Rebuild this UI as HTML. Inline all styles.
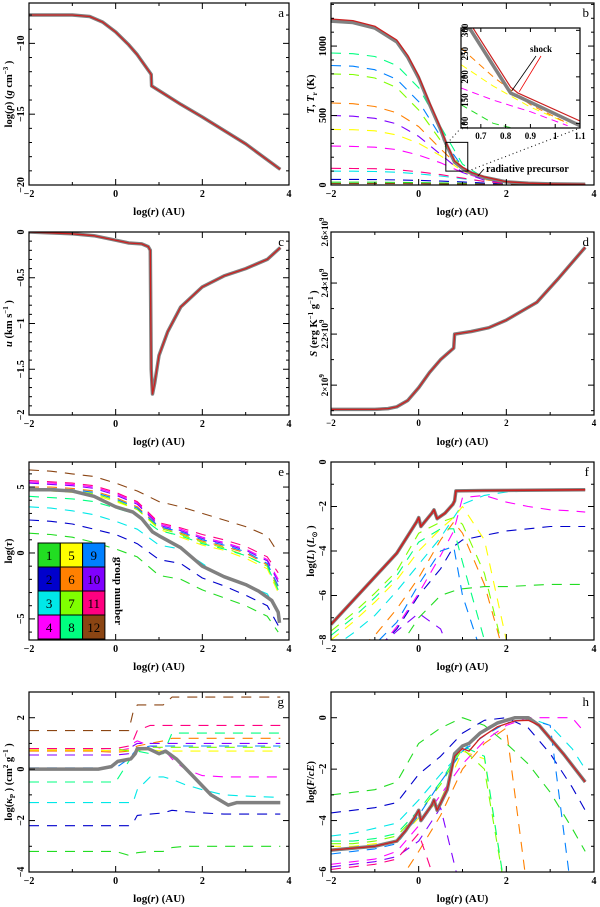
<!DOCTYPE html>
<html><head><meta charset="utf-8"><style>
html,body{margin:0;padding:0;background:#fff}
svg{display:block;font-family:"Liberation Serif",serif;font-weight:bold}
</style></head><body>
<svg id="fig" width="600" height="907" viewBox="0 0 600 907" xmlns="http://www.w3.org/2000/svg"></svg>
<script>
// ---------- DATA ----------
const GROUP_COLORS=['#22dd22','#0000cc','#00e8e8','#ff00ff','#ffff00','#ff8000','#80ff00','#00ff80','#0080ff','#8000ff','#ff0080','#8b4513'];
// panel a
const A_x=[-2,-1,-0.6,-0.3,0,0.3,0.5,0.8,0.82,0.83,1.5,2,3,3.8];
const A_y=[-8,-8,-8.1,-8.5,-9.2,-10.1,-10.8,-12.1,-12.2,-13.0,-14.3,-15.2,-17.1,-18.9];
// panel b
const B_x=[-2,-1.5,-1,-0.5,-0.25,0,0.25,0.5,0.62,0.82,1.0,1.2,1.5,2,2.5,3,3.8];
const B_gray=[1180,1170,1130,1030,920,770,580,400,300,165,120,85,55,22,12,8,5];
const B_red=[1195,1183,1143,1043,933,783,592,410,310,172,128,90,58,24,13,8,5];
const B_gx=[-2,-1.5,-1,-0.5,0,0.5,1,1.5,2,3,3.8];
const B_g1=[20,20,20,19,17,15,12,9,6,4,3];
const B_g2=[40,40,39,37,33,28,22,14,8,5,3];
const B_g3=[100,99,97,92,80,65,45,25,12,6,4];
const B_g4=[280,278,272,255,215,160,90,40,15,7,5];
const B_g5=[400,398,390,360,300,210,100,40,15,7,5];
const B_g6=[590,585,565,520,420,260,110,40,16,7,5];
const B_g7=[800,795,770,700,540,320,120,45,18,8,5];
const B_g8=[950,945,925,860,700,420,150,50,20,8,5];
const B_g9=[860,855,830,760,600,350,130,45,18,8,5];
const B_g10=[500,495,480,440,350,220,90,35,14,6,4];
const B_g11=[120,119,117,110,95,75,50,25,12,6,4];
const B_g12=[10,10,10,10,9,8,7,6,5,3,2];
// inset
const I_x=[0.62,0.66,0.82,0.85,1.1];
const I_gray=[320,300,165,158,95];
const I_red=[330,312,178,165,105];
const I_dx=[0.62,0.75,0.9,1.05];
const I_orange=[262,200,140,100];
const I_yellow=[226,180,135,100];
const I_magenta=[176,150,125,95];
const I_green=[140,100,80,70];
// panel c
const C_x=[-2,-1,-0.5,0,0.3,0.6,0.75,0.8,0.82,0.85,0.9,1.0,1.2,1.5,2,2.5,3,3.5,3.8];
const C_y=[0,-0.02,-0.04,-0.09,-0.12,-0.13,-0.16,-0.2,-1.5,-1.77,-1.65,-1.35,-1.09,-0.82,-0.6,-0.48,-0.4,-0.3,-0.17];
// panel d
const D_x=[-2,-1,-0.7,-0.5,-0.25,0,0.25,0.5,0.8,0.82,1.2,1.6,2,2.7,3.2,3.8];
const D_y=[1.905,1.905,1.908,1.915,1.94,1.99,2.05,2.1,2.145,2.2,2.21,2.225,2.255,2.325,2.42,2.54];
// panel e
const E_x=[-2,-1.5,-1,-0.5,0,0.4,0.6,0.85,1,1.5,2,2.5,3,3.3,3.6,3.75,3.78];
const E_y=[4.8,4.8,4.7,4.3,3.5,3.1,2.6,1.6,1.3,0.4,-1,-1.8,-2.4,-2.9,-3.6,-4.5,-5.3];
const E_gx=[-2,-1.5,-1,-0.5,0,0.5,1,1.5,2,2.5,3,3.5,3.75];
const E_g1=[1.5,1.4,1.2,0.8,0.3,-0.3,-1.7,-2,-2.8,-3.4,-4.0,-4.8,-6];
const E_g2=[2.5,2.4,2.2,1.8,1.4,0.7,-0.5,-0.8,-1.9,-2.5,-3.2,-4.0,-5.5];
const E_g3=[3.5,3.4,3.2,2.9,2.4,1.8,0.6,0.3,-0.8,-1.9,-2.4,-3.1,-4.5];
const E_g4=[5.4,5.3,5.2,5.0,4.5,3.8,2.2,1.8,1.2,0.8,0.3,-0.5,-2];
const E_g5=[4.7,4.7,4.6,4.4,3.9,3.3,1.8,1.2,0.6,0.2,-0.4,-1.2,-3];
const E_g6=[5.0,5.0,4.9,4.7,4.2,3.5,2.0,1.5,0.9,0.5,0,-0.9,-2.6];
const E_g7=[4.8,4.8,4.7,4.5,4.0,3.3,1.9,1.4,0.8,0.4,-0.2,-1,-2.8];
const E_g8=[4.3,4.2,4.1,3.9,3.4,2.9,1.7,1.3,0.7,0.3,-0.2,-1.0,-2.8];
const E_g9=[4.9,4.9,4.8,4.6,4.1,3.4,2.0,1.6,1.0,0.6,0.1,-0.8,-2.5];
const E_g10=[5.3,5.2,5.1,4.9,4.4,3.7,2.1,1.7,1.1,0.7,0.2,-0.6,-2.2];
const E_g11=[5.5,5.4,5.3,5.1,4.6,3.9,2.3,1.9,1.4,1.0,0.5,-0.3,-1.5];
const E_g12=[6.3,6.2,6.0,5.8,5.3,4.7,3.9,3.5,3.0,2.5,2.0,1.3,0.0];
// panel f
const F_x=[-2,-0.5,-0.05,0,0.05,0.3,0.35,0.42,0.6,0.78,0.82,0.85,1.5,3.8];
const F_y=[-7.3,-4.1,-2.7,-2.5,-2.9,-2.3,-2.15,-2.55,-2.3,-1.9,-1.75,-1.3,-1.28,-1.25];
const F_gx=[-2,-1.5,-1,-0.5,0,0.5,0.8,1,1.5,2,2.5,3,3.5,3.8];
const F_g1=[-9,-9,-9,-8.5,-7,-6,-5.8,-5.7,-5.6,-5.6,-5.55,-5.5,-5.5,-5.5];
const F_g2=[-9,-9,-8.5,-7.5,-6,-4.8,-3.8,-3.5,-3.3,-3.1,-3.0,-2.9,-2.9,-2.9];
const F_g3=[-8.4,-7.7,-6.9,-5.8,-4.6,-3.4,-2.5,-1.9,-1.5,-1.35,-1.3,-1.3,-1.3,-1.3];
const F_g4=[-9,-9,-8.6,-7.4,-5.9,-4.2,-3.1,-1.6,-1.5,-1.8,-2.0,-2.15,-2.2,-2.25];
const F_g5=[-8,-7.2,-6.3,-5.3,-4,-3,-2.5,-2.0,-3.5,-8,-9,-9,-9,-9];
const F_g6=[-9,-8.6,-7.8,-6.6,-5.2,-3.5,-2.7,-3.2,-5.5,-9,-9,-9,-9,-9];
const F_g7=[-7.6,-6.8,-5.9,-4.9,-3.2,-2.7,-2.5,-2.8,-5,-9,-9,-9,-9,-9];
const F_g8=[-7.8,-7.0,-6.1,-5.1,-3.6,-3.0,-3.0,-4.5,-8,-9,-9,-9,-9,-9];
const F_g9=[-9,-8.8,-8.2,-7.2,-5.5,-4,-3.8,-6,-9,-9,-9,-9,-9,-9];
const F_g10=[-9,-9,-8.5,-7.6,-6.8,-7.5,-9,-9,-9,-9,-9,-9,-9,-9];
const F_g11=[-9,-9,-8.8,-8.2,-8.5,-9,-9,-9,-9,-9,-9,-9,-9,-9];
const F_g12=[-9,-9,-9,-9,-9,-9,-9,-9,-9,-9,-9,-9,-9,-9];
// panel g
const G_x=[-2,-1,-0.4,-0.1,0.05,0.35,0.45,0.5,0.75,1,1.15,1.4,1.8,2.2,2.6,2.8,3.8];
const G_y=[0,0,0,0.1,0.3,0.4,0.6,0.8,0.8,0.6,0.7,0.4,-0.3,-1.0,-1.4,-1.3,-1.3];
const G_gx=[-2,-1,-0.5,0,0.3,0.4,0.5,0.8,1.1,1.3,1.6,2,2.5,3,3.8];
const G_g1=[-3.2,-3.2,-3.2,-3.2,-3.35,-3.3,-3.25,-3.2,-3.2,-3.05,-3.0,-3.0,-3.0,-3.0,-3.0];
const G_g2=[-2.2,-2.2,-2.2,-2.2,-2.2,-2.1,-1.8,-1.75,-1.7,-1.6,-1.65,-1.7,-1.75,-1.75,-1.75];
const G_g3=[-1.3,-1.3,-1.3,-1.3,-1.3,-1.3,-0.8,-0.3,-0.3,-0.4,-0.6,-0.8,-1.0,-1.05,-1.1];
const G_g4=[0.75,0.75,0.75,0.7,0.8,1.0,1.1,0.9,0.8,0.4,0,-0.25,-0.3,-0.3,-0.3];
const G_g5=[0.75,0.75,0.75,0.7,0.75,0.8,0.75,0.75,0.7,0.7,0.7,0.7,0.7,0.7,0.7];
const G_g6=[0.7,0.7,0.7,0.65,0.7,0.8,0.9,1.0,1.1,1.2,1.2,1.2,1.2,1.2,1.2];
const G_g7=[0.8,0.8,0.8,0.8,0.7,0.6,0.7,0.85,0.85,0.85,0.85,0.85,0.85,0.85,0.85];
const G_g8=[-0.5,-0.5,-0.5,-0.5,0.3,0.5,0.7,0.6,0.6,1.4,1.4,1.4,1.4,1.4,1.4];
const G_g9=[0.05,0.05,0.05,0.05,0.4,0.6,0.8,0.9,0.9,0.9,0.9,0.9,0.9,0.9,0.9];
const G_g10=[0.55,0.55,0.55,0.55,0.6,0.9,1.0,1.0,1.0,1.0,1.0,1.0,1.0,1.0,1.0];
const G_g11=[0.8,0.8,0.8,0.8,0.9,1.1,1.5,1.7,1.7,1.7,1.7,1.7,1.7,1.7,1.7];
const G_g12=[1.5,1.5,1.5,1.5,1.5,2.2,2.5,2.5,2.5,2.8,2.8,2.8,2.8,2.8,2.8];
// panel h
const H_x=[-2,-1,-0.5,-0.3,-0.1,0,0.05,0.3,0.35,0.42,0.65,0.82,1.0,1.15,1.4,1.8,2.2,2.5,2.75,3.3,3.8];
const H_red=[-5.15,-5.0,-4.8,-4.4,-3.9,-3.6,-4.0,-3.4,-3.2,-3.6,-2.8,-1.5,-1.2,-1.3,-0.8,-0.35,-0.12,-0.1,-0.3,-1.4,-2.5];
const H_gray=[-5.15,-5.0,-4.8,-4.4,-3.9,-3.6,-4.0,-3.4,-3.2,-3.6,-2.8,-1.4,-1.1,-1.0,-0.6,-0.2,0,0,-0.3,-1.4,-2.5];
const H_gx=[-2,-1.5,-1,-0.5,0,0.5,1,1.5,2,2.5,3,3.5,3.8];
const H_g1=[-3,-2.9,-2.8,-2.5,-1.0,-0.4,0,-0.3,-1.0,-1.8,-2.9,-4.3,-5.2];
const H_g2=[-3.7,-3.6,-3.5,-3.3,-2.2,-1.5,-0.6,-0.1,0,-0.4,-1.4,-2.7,-3.6];
const H_g3=[-4.6,-4.5,-4.3,-4.1,-3.2,-2.2,-1.3,-0.5,-0.1,0,-0.3,-1.2,-2];
const H_g4=[-5.7,-5.6,-5.5,-5.2,-4.2,-3,-1.8,-0.9,-0.3,0,0,0,-0.6];
const H_g5=[-5.0,-5.0,-4.9,-4.8,-3.9,-3.2,-1.3,-1.6,-7,-7,-7,-7,-7];
const H_g6=[-7,-7,-7,-6.5,-5.2,-3.8,-2,-1,-0.4,-7,-7,-7,-7];
const H_g7=[-4.9,-4.9,-4.8,-4.6,-3.7,-2.6,-1.2,-2,-7,-7,-7,-7,-7];
const H_g8=[-4.8,-4.8,-4.7,-4.5,-3.6,-2.5,-1.1,-1.5,-7,-7,-7,-7,-7];
const H_g9=[-5.3,-5.2,-5.1,-4.9,-3.8,-2.5,-1.3,-0.7,-0.2,-0.05,-0.3,-7,-7];
const H_g10=[-5.8,-5.7,-5.6,-5.4,-4.8,-3.5,-7,-7,-7,-7,-7,-7,-7];
const H_g11=[-5.9,-5.8,-5.7,-5.5,-4.5,-7,-7,-7,-7,-7,-7,-7,-7];
const H_g12=[-7,-7,-7,-7,-7,-7,-7,-7,-7,-7,-7,-7,-7];

// ---------- DRAWING ----------
const NS='http://www.w3.org/2000/svg';
const svg=document.getElementById('fig');
function mk(tag,attrs,parent){const e=document.createElementNS(NS,tag);for(const k in attrs)e.setAttribute(k,attrs[k]);(parent||svg).appendChild(e);return e;}
let clipN=0;
function panel(key,L,T,W,H,x0,x1,y0,y1){
  const g=mk('g',{});
  
  
  const sx=x=>L+(x-x0)/(x1-x0)*W, sy=y=>T+(y1-y)/(y1-y0)*H;
  const cid='clip'+(clipN++);
  const cp=mk('clipPath',{id:cid},g); mk('rect',{x:L,y:T,width:W,height:H},cp);
  const plot=mk('g',{'clip-path':'url(#'+cid+')'},g);
  return {g,plot,sx,sy,L,T,W,H,key};
}
function frame(P,xt,xminor,yt,yminor,ytl,opts){
  opts=opts||{};
  const fs=opts.fs||10, tl=opts.tl||6;
  const r=mk('rect',{x:P.L,y:P.T,width:P.W,height:P.H,fill:'none',stroke:'#000','stroke-width':1.2},P.g);
  
  
  const B=P.T+P.H;
  xt.forEach((v,i)=>{const x=P.sx(v);
    mk('line',{x1:x,x2:x,y1:B,y2:B-tl,stroke:'#000','stroke-width':1},P.g);
    mk('line',{x1:x,x2:x,y1:P.T,y2:P.T+tl,stroke:'#000','stroke-width':1},P.g);
    const t=mk('text',{x:x,y:B+fs+2,'font-size':fs,'text-anchor':'middle'},P.g);
    t.textContent=(opts.xlabels?opts.xlabels[i]:(v<0?'\u2212'+(-v):String(v)));
    
    
  });
  xminor.forEach(v=>{const x=P.sx(v);
    mk('line',{x1:x,x2:x,y1:B,y2:B-tl/2,stroke:'#000','stroke-width':1},P.g);
    mk('line',{x1:x,x2:x,y1:P.T,y2:P.T+tl/2,stroke:'#000','stroke-width':1},P.g);});
  yt.forEach((v,i)=>{const y=P.sy(v);
    mk('line',{x1:P.L,x2:P.L+tl,y1:y,y2:y,stroke:'#000','stroke-width':1},P.g);
    mk('line',{x1:P.L+P.W,x2:P.L+P.W-tl,y1:y,y2:y,stroke:'#000','stroke-width':1},P.g);
    const lx=P.L-(opts.ylx||4);
    const t=mk('text',{x:0,y:0,'font-size':fs,'text-anchor':'middle',transform:`translate(${lx},${y}) rotate(-90)`},P.g);
    t.innerHTML=ytl[i];
    
    
  });
  yminor.forEach(v=>{const y=P.sy(v);
    mk('line',{x1:P.L,x2:P.L+tl/2,y1:y,y2:y,stroke:'#000','stroke-width':1},P.g);
    mk('line',{x1:P.L+P.W,x2:P.L+P.W-tl/2,y1:y,y2:y,stroke:'#000','stroke-width':1},P.g);});
}
function titles(P,ytitle,letter,ytx){
  const t=mk('text',{x:P.L+P.W/2,y:P.T+P.H+30,'font-size':11,'text-anchor':'middle'},P.g);
  t.innerHTML='log(<tspan font-style="italic">r</tspan>)  (AU)';
  
  
  const yt=mk('text',{x:0,y:0,'font-size':10.5,'text-anchor':'middle',transform:`translate(${P.L-ytx},${P.T+P.H/2}) rotate(-90)`},P.g);
  yt.innerHTML=ytitle;
  
  
  const l=mk('text',{x:P.L+P.W-5,y:P.T+14,'font-size':13,'text-anchor':'end','font-weight':'normal'},P.g);
  l.textContent=letter;
  
  
}
function line(P,xs,ys,color,w,dash,name){
  let d='';xs.forEach((x,i)=>{d+=(i?'L':'M')+P.sx(x).toFixed(1)+','+P.sy(ys[i]).toFixed(1);});
  const a={d:d,fill:'none',stroke:color,'stroke-width':w,'stroke-linejoin':'round'};
  if(dash)a['stroke-dasharray']=dash;
  const p=mk('path',a,P.plot);
  
  
  return p;
}
function groups(P,gx,arrs,w){
  arrs.forEach((ys,i)=>{line(P,gx,ys,GROUP_COLORS[i],w||1.1,'10,8','group-'+(i+1)+'-line');});
}
function rng(a,b,s,skip){const r=[];for(let v=a;v<=b+1e-9;v+=s){const vv=Math.round(v*1000)/1000;if(!skip||skip.indexOf(vv)<0)r.push(vv);}return r;}
const GRAY='#808080', RED='#cc2020';
const XT=[-2,0,2,4], XM=[-1,1,3];
const LC=[29,331], WC=[260,263];
const RT=[3,232,462,692], RH=[182,183,178,180];
const sup=s=>`<tspan font-size="7" dy="-4">${s}</tspan><tspan dy="4"> </tspan>`;
const sub=s=>`<tspan font-size="7" dy="3">${s}</tspan><tspan dy="-3"> </tspan>`;

// a
let P=panel('a',LC[0],RT[0],WC[0],RH[0],-2,4,-20,-7.15);
line(P,A_x,A_y,GRAY,3.5,null,'density-gray-line');
line(P,A_x,A_y,RED,1.3,null,'density-red-line');
frame(P,XT,XM,[-20,-15,-10],rng(-20,-8,1,[-20,-15,-10]),['\u221220','\u221215','\u221210'],{ylx:5});
titles(P,'log(<tspan font-style="italic">ρ</tspan>)  (<tspan font-style="italic">g</tspan> cm'+sup('\u22123')+')','a',17);

// b
P=panel('b',LC[1],RT[0],WC[1],RH[0],-2,4,0,1310);
groups(P,B_gx,[B_g1,B_g2,B_g3,B_g4,B_g5,B_g6,B_g7,B_g8,B_g9,B_g10,B_g11,B_g12]);
line(P,B_x,B_gray,GRAY,3.5,null,'temperature-gray-line');
line(P,B_x,B_red,RED,1.3,null,'temperature-red-line');
frame(P,XT,XM,[0,500,1000],rng(100,1300,100,[500,1000]),['0','500','1000'],{ylx:5});
titles(P,'<tspan font-style="italic">T</tspan>, <tspan font-style="italic">T</tspan>'+sub('r')+' (K)','b',17);
const bx1=P.sx(0.62),bx2=P.sx(1.12),by1=P.sy(307),by2=P.sy(100);
let e=mk('rect',{x:bx1,y:by1,width:bx2-bx1,height:by2-by1,fill:'none',stroke:'#000','stroke-width':1},P.g);


e=mk('line',{x1:bx1+4,y1:by1-2,x2:461,y2:128,stroke:'#000','stroke-width':1,'stroke-dasharray':'1,3'},P.g);


e=mk('line',{x1:bx2,y1:by2,x2:580,y2:128,stroke:'#000','stroke-width':1,'stroke-dasharray':'1,3'},P.g);


e=mk('text',{x:486,y:172,'font-size':10},P.g);
e.textContent='radiative precursor';


e=mk('line',{x1:484,y1:169,x2:P.sx(1.35),y2:P.sy(65),stroke:'#000','stroke-width':0.8},P.g);


// inset
const I=panel('b-inset',461,28,119,100,0.62,1.1,90,305);
const ir=mk('rect',{x:461,y:28,width:119,height:100,fill:'#fff'},I.plot);


line(I,I_dx,I_green,GROUP_COLORS[0],1,'7,5','inset-group-1');
line(I,I_dx,I_magenta,GROUP_COLORS[3],1,'7,5','inset-group-4');
line(I,I_dx,I_yellow,GROUP_COLORS[4],1,'7,5','inset-group-5');
line(I,I_dx,I_orange,GROUP_COLORS[5],1,'7,5','inset-group-6');
line(I,I_x,I_gray,GRAY,3.5,null,'inset-gray-line');
line(I,I_x,I_red,RED,1.2,null,'inset-red-line');
frame(I,[0.7,0.8,0.9,1,1.1],[],[100,150,200,250,300],[],['100','150','200','250','300'],{fs:9,tl:4,ylx:-7,xlabels:['0.7','0.8','0.9','1','1.1']});
e=mk('text',{x:530,y:52,'font-size':9},I.g);
e.textContent='shock';


e=mk('line',{x1:536,y1:56,x2:I.sx(0.825),y2:I.sy(170),stroke:'#000','stroke-width':0.8},I.g);


e=mk('line',{x1:541,y1:56,x2:I.sx(0.855),y2:I.sy(168),stroke:'#e00','stroke-width':0.8},I.g);



// c
P=panel('c',LC[0],RT[1],WC[0],RH[1],-2,4,-2,0);
line(P,C_x,C_y,GRAY,3.5,null,'velocity-gray-line');
line(P,C_x,C_y,RED,1.3,null,'velocity-red-line');
frame(P,XT,XM,[-2,-1.5,-1,-0.5,0],rng(-1.9,-0.1,0.1,[-1.5,-1,-0.5]),['\u22122','\u22121.5','\u22121','\u22120.5','0'],{ylx:5});
titles(P,'<tspan font-style="italic">u</tspan> (km s'+sup('\u22121')+')','c',17);

// d
P=panel('d',LC[1],RT[1],WC[1],RH[1],-2,4,1.883,2.6);
line(P,D_x,D_y,GRAY,3.5,null,'entropy-gray-line');
line(P,D_x,D_y,RED,1.3,null,'entropy-red-line');
const X9=sup('9');
frame(P,XT,XM,[2.0,2.2,2.4,2.6],[1.9,2.1,2.3,2.5],['2×10'+X9,'2.2×10'+X9,'2.4×10'+X9,'2.6×10'+X9],{ylx:3,fs:9});
titles(P,'<tspan font-style="italic">S</tspan> (erg K'+sup('\u22121')+' g'+sup('\u22121')+')','d',14);

// e
P=panel('e',LC[0],RT[2],WC[0],RH[2],-2,4,-6.6,6.9);
groups(P,E_gx,[E_g1,E_g2,E_g3,E_g4,E_g5,E_g6,E_g7,E_g8,E_g9,E_g10,E_g11,E_g12]);
line(P,E_x,E_y,GRAY,3.5,null,'optical-depth-gray-line');
frame(P,XT,XM,[-5,0,5],rng(-6,6,1,[-5,0,5]),['\u22125','0','5'],{ylx:5});
titles(P,'log(<tspan font-style="italic">τ</tspan>)','e',17);
const LG=mk('g',{},P.g);


const lgX=38,lgY=543,cw=22.3,ch=24;
for(let c=0;c<3;c++)for(let r=0;r<4;r++){const n=c*4+r+1;
  const cell=mk('rect',{x:lgX+c*cw,y:lgY+r*ch,width:cw,height:ch,fill:GROUP_COLORS[n-1],stroke:'#000','stroke-width':1},LG);
  
  
  const t=mk('text',{x:lgX+c*cw+cw/2,y:lgY+r*ch+ch/2+5,'font-size':13,'font-weight':'normal','text-anchor':'middle'},LG);
  t.textContent=n;
  
  
}
e=mk('text',{x:0,y:0,'font-size':11,'text-anchor':'middle',transform:`translate(${lgX+3*cw+10},${lgY+2*ch}) rotate(90)`},LG);
e.textContent='group number';



// f
P=panel('f',LC[1],RT[2],WC[1],RH[2],-2,4,-8,0);
groups(P,F_gx,[F_g1,F_g2,F_g3,F_g4,F_g5,F_g6,F_g7,F_g8,F_g9,F_g10,F_g11,F_g12]);
line(P,F_x,F_y,GRAY,3.5,null,'luminosity-gray-line');
line(P,F_x,F_y,RED,1.6,null,'luminosity-red-line');
frame(P,XT,XM,[-8,-6,-4,-2,0],rng(-7,-1,1,[-6,-4,-2]),['\u22128','\u22126','\u22124','\u22122','0'],{ylx:5});
titles(P,'log(<tspan font-style="italic">L</tspan>)  (<tspan font-style="italic">L</tspan>'+sub('⊙')+')','f',17);

// g
P=panel('g',LC[0],RT[3],WC[0],RH[3],-2,4,-4,3);
groups(P,G_gx,[G_g1,G_g2,G_g3,G_g4,G_g5,G_g6,G_g7,G_g8,G_g9,G_g10,G_g11,G_g12]);
line(P,G_x,G_y,GRAY,3.5,null,'opacity-gray-line');
frame(P,XT,XM,[-4,-2,0,2],rng(-3,3,1,[-2,0,2]),['\u22124','\u22122','0','2'],{ylx:5});
titles(P,'log(<tspan font-style="italic">κ</tspan>'+sub('P')+') (cm'+sup('2')+' g'+sup('\u22121')+')','g',17);

// h
P=panel('h',LC[1],RT[3],WC[1],RH[3],-2,4,-6,1);
groups(P,H_gx,[H_g1,H_g2,H_g3,H_g4,H_g5,H_g6,H_g7,H_g8,H_g9,H_g10,H_g11,H_g12]);
line(P,H_x,H_gray,GRAY,3.5,null,'flux-ratio-gray-line');
line(P,H_x,H_red,RED,1.3,null,'flux-ratio-red-line');
frame(P,XT,XM,[-6,-4,-2,0],rng(-5,1,1,[-4,-2,0]),['\u22126','\u22124','\u22122','0'],{ylx:5});
titles(P,'log(<tspan font-style="italic">F</tspan>/<tspan font-style="italic">cE</tspan>)','h',17);
</script>
</body></html>
